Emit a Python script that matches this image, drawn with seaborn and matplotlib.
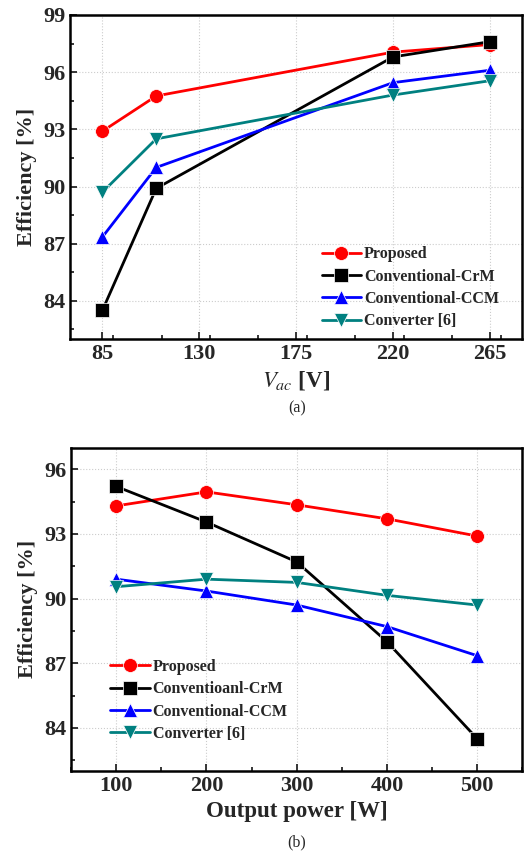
import numpy as np
import pandas as pd
import seaborn as sns
import matplotlib.pyplot as plt
from matplotlib.ticker import MultipleLocator

# %%
series = ["Proposed", "Conventional-CrM", "Conventional-CCM", "Converter [6]"]
series_b = ["Proposed", "Conventioanl-CrM", "Conventional-CCM", "Converter [6]"]

vac = [85, 110, 220, 265]
eff_a_proposed = [92.9, 94.75, 97.05, 97.45]
eff_a_crm = [83.5, 89.9, 96.8, 97.6]
eff_a_ccm = [87.35, 91.0, 95.45, 96.1]
eff_a_conv6 = [89.7, 92.5, 94.8, 95.55]

power = [100, 200, 300, 400, 500]
eff_b_proposed = [94.3, 94.95, 94.35, 93.7, 92.9]
eff_b_crm = [95.2, 93.55, 91.7, 88.0, 83.5]
eff_b_ccm = [90.9, 90.35, 89.7, 88.7, 87.35]
eff_b_conv6 = [90.55, 90.9, 90.75, 90.15, 89.7]

colors = ["#ff0000", "#000000", "#0000ff", "#008080"]
markers = ["o", "s", "^", "v"]

# %%
def long_df(x, ys, names):
    rows = []
    for name, y in zip(names, ys):
        for xi, yi in zip(x, y):
            rows.append({"x": xi, "y": yi, "series": name})
    return pd.DataFrame(rows)

df_a = long_df(vac, [eff_a_proposed, eff_a_crm, eff_a_ccm, eff_a_conv6], series)
df_b = long_df(power, [eff_b_proposed, eff_b_crm, eff_b_ccm, eff_b_conv6], series_b)

# %%
sns.set_theme(style="white")
plt.rcParams["font.family"] = ["Liberation Serif", "DejaVu Serif"]
plt.rcParams["mathtext.fontset"] = "stix"

fig = plt.figure(figsize=(5.27, 8.56), dpi=100)
ax1 = fig.add_axes([0.133, 0.604, 0.858, 0.3785])
ax2 = fig.add_axes([0.135, 0.0993, 0.856, 0.3777])


def draw(ax, df, names):
    sns.lineplot(data=df, x="x", y="y", hue="series", style="series",
                 hue_order=names, style_order=names,
                 palette=dict(zip(names, colors)),
                 markers=dict(zip(names, markers)),
                 dashes=False, markersize=10, linewidth=2,
                 markeredgewidth=0.5, ax=ax)
    ax.grid(True, color="#cccccc", linestyle=":", linewidth=0.8)
    for s in ax.spines.values():
        s.set_linewidth(1.8)
        s.set_color("black")
    ax.tick_params(which="both", direction="in", width=1.3, labelsize=16)
    ax.tick_params(which="major", length=5, left=True, bottom=True)
    ax.tick_params(which="minor", length=3, left=True, bottom=True)
    ax.set_ylabel("Efficiency [%]", fontsize=16, fontweight="bold")
    handles, labels = ax.get_legend_handles_labels()
    ax.get_legend().remove()
    return handles, labels


h, l = draw(ax1, df_a, series)
ax1.set_xlim(70, 280)
ax1.set_ylim(82, 99)
ax1.set_xticks([85, 130, 175, 220, 265])
ax1.xaxis.set_minor_locator(MultipleLocator(22.5))
ax1.set_yticks([84, 87, 90, 93, 96, 99])
ax1.yaxis.set_minor_locator(MultipleLocator(1.5))
for lab in ax1.get_xticklabels() + ax1.get_yticklabels():
    lab.set_fontweight("bold")
ax1.set_xlabel(r"$\mathbf{\mathit{V}_{\mathit{ac}}}$ [V]", fontsize=16.5, fontweight="bold")
ax1.legend(h, l, loc="lower right", bbox_to_anchor=(0.98, -0.015), frameon=False,
           prop={"weight": "bold", "size": 11.5}, handlelength=2.5,
           handletextpad=0.15, labelspacing=0.4)

h, l = draw(ax2, df_b, series_b)
ax2.set_xlim(50, 550)
ax2.set_ylim(82, 97)
ax2.set_xticks([100, 200, 300, 400, 500])
ax2.xaxis.set_minor_locator(MultipleLocator(50))
ax2.set_yticks([84, 87, 90, 93, 96])
ax2.yaxis.set_minor_locator(MultipleLocator(1.5))
for lab in ax2.get_xticklabels() + ax2.get_yticklabels():
    lab.set_fontweight("bold")
ax2.set_xlabel("Output power [W]", fontsize=16.5, fontweight="bold")
ax2.legend(h, l, loc="lower left", bbox_to_anchor=(0.055, 0.045), frameon=False,
           prop={"weight": "bold", "size": 11.5}, handlelength=2.5,
           handletextpad=0.15, labelspacing=0.4)

fig.text(0.563, 0.523, "(a)", ha="center", va="center", fontsize=11.5)
fig.text(0.563, 0.016, "(b)", ha="center", va="center", fontsize=11.5)

plt.savefig("out.png", dpi=100)
